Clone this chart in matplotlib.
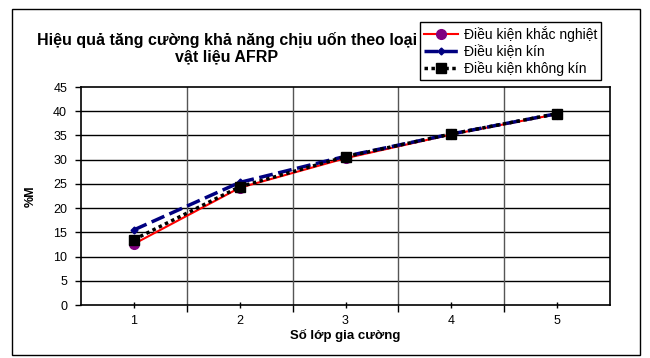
import matplotlib
matplotlib.use('Agg')
from matplotlib import pyplot as plt
from matplotlib.patches import Rectangle

plt.rcParams['font.family'] = ['Liberation Sans', 'DejaVu Sans']

layers = [1, 2, 3, 4, 5]
harsh = [12.6, 24.2, 30.3, 35.2, 39.4]
sealed = [15.5, 25.3, 30.7, 35.3, 39.5]
unsealed = [13.5, 24.4, 30.6, 35.3, 39.5]
series_names = ['Điều kiện khắc nghiệt', 'Điều kiện kín', 'Điều kiện không kín']
y_ticks = [0, 5, 10, 15, 20, 25, 30, 35, 40, 45]

W, H = 650, 358
fig = plt.figure(figsize=(6.5, 3.58), dpi=100)

# outer chart border
fig.patches.append(Rectangle((12 / W, 1 - 355 / H), 628 / W, 346 / H,
                             transform=fig.transFigure, fill=False,
                             edgecolor='black', linewidth=1.0))

ax = fig.add_axes([81 / W, 1 - 305 / H, 529 / W, 218 / H])

l1, = ax.plot(layers, harsh, color='red', linewidth=1.5, marker='o',
              markersize=7, markerfacecolor='#800080', markeredgecolor='#800080',
              zorder=3)
l2, = ax.plot(layers, sealed, color='#000080', linewidth=2.5,
              linestyle=(0, (4, 1.6)), marker='D', markersize=3.5,
              markerfacecolor='#000080', markeredgecolor='#000080', zorder=4)
l3, = ax.plot(layers, unsealed, color='black', linewidth=2.5,
              linestyle=(0, (1, 1)), marker='s', markersize=7,
              markerfacecolor='black', markeredgecolor='black', zorder=5)

ax.set_xlim(0.5, 5.5)
ax.set_ylim(0, 45)
ax.set_yticks(y_ticks)
ax.set_xticks(layers)
ax.set_xticks([1.5, 2.5, 3.5, 4.5], minor=True)
ax.tick_params(axis='y', labelsize=9, length=4, pad=6, width=1)
ax.tick_params(axis='x', which='major', labelsize=9, length=5, direction='inout', pad=5, width=1)
ax.tick_params(axis='x', which='minor', length=5, direction='out', width=1)

for y in y_ticks[1:-1]:
    ax.axhline(y, color='black', linewidth=1.0, zorder=1)
for x in [1.5, 2.5, 3.5, 4.5]:
    ax.axvline(x, color='#555555', linewidth=1.0, zorder=1)
for s in ax.spines.values():
    s.set_linewidth(1.2)
    s.set_color('black')

ax.set_xlabel('Số lớp gia cường', fontsize=9.5, fontweight='bold', labelpad=1)
ax.set_ylabel('%M', fontsize=9, fontweight='bold', labelpad=12)

fig.text(227 / W, 1 - 48 / H,
         'Hiệu quả tăng cường khả năng chịu uốn theo loại\nvật liệu AFRP',
         ha='center', va='center', fontsize=11.5, fontweight='bold',
         multialignment='center', linespacing=1.1, zorder=1)

leg = fig.legend([l1, l2, l3], series_names, loc='upper left',
                 bbox_to_anchor=(420 / W, 1 - 22 / H), fontsize=10,
                 frameon=True, fancybox=False, framealpha=1, edgecolor='black',
                 borderpad=0.3, handlelength=2.4, handletextpad=0.45,
                 labelspacing=0.18, borderaxespad=0)
leg.get_frame().set_linewidth(1.0)
leg.set_zorder(10)

plt.savefig('out.png', dpi=100)
plt.close()
